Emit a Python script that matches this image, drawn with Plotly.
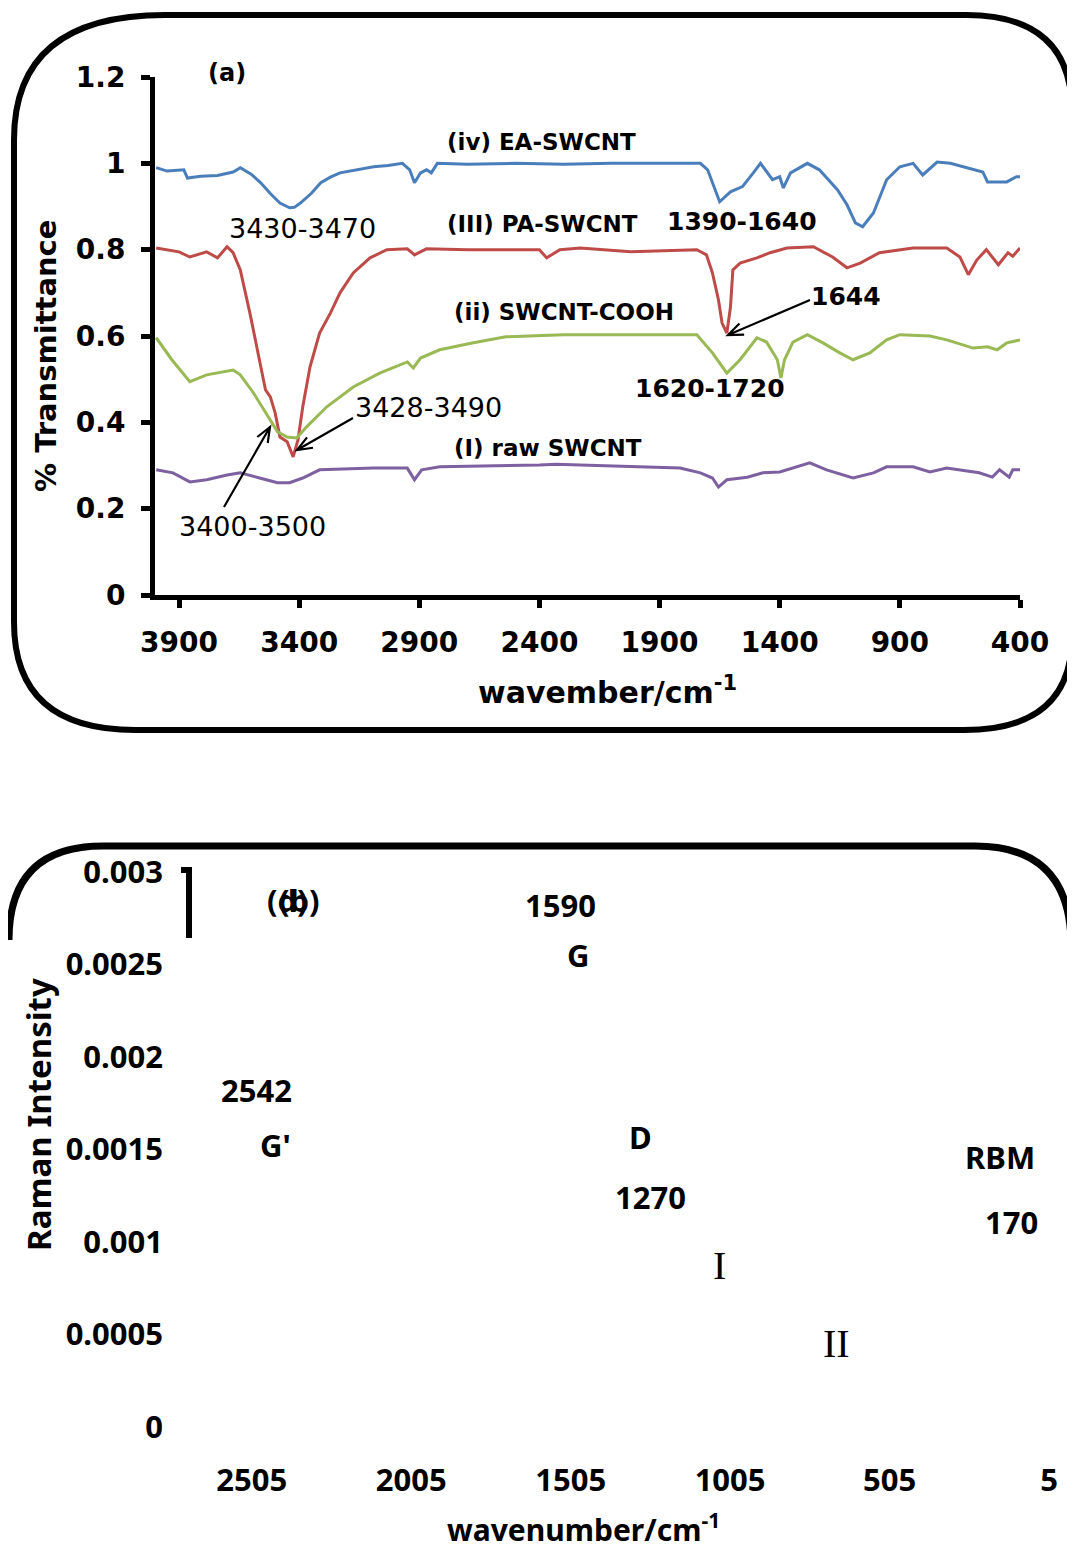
import plotly.graph_objects as go

W, H = 1075, 1549
OFF = 8  # page body margin in the browser

# ---------------- Panel (a): FTIR spectra ----------------
iv_wn = [3995, 3950, 3880, 3865, 3810, 3740, 3675, 3645, 3600, 3560, 3520, 3480, 3440, 3420, 3395, 3350, 3310, 3270, 3230, 3160,
         3090, 3030, 2970, 2940, 2920, 2895, 2870, 2850, 2825, 2700, 2500, 2300, 2100, 1900, 1730, 1700, 1660, 1650, 1605, 1555,
         1510, 1480, 1430, 1400, 1385, 1355, 1285, 1235, 1160, 1120, 1085, 1055, 1010, 955, 900, 845, 805, 745, 690, 595,
         555, 535, 455, 415, 400]
iv_t = [0.99, 0.982, 0.985, 0.966, 0.97, 0.972, 0.98, 0.99, 0.975, 0.955, 0.93, 0.908, 0.897, 0.898, 0.908, 0.93, 0.955, 0.968, 0.978, 0.985,
        0.992, 0.995, 1.0, 0.985, 0.955, 0.978, 0.985, 0.978, 1.0, 0.998, 1.0, 0.998, 1.0, 1.0, 1.0, 0.985, 0.927, 0.911, 0.934, 0.946,
        0.978, 1.0, 0.962, 0.969, 0.943, 0.978, 1.0, 0.985, 0.939, 0.904, 0.862, 0.853, 0.885, 0.962, 0.992, 1.0, 0.973, 1.003, 1.0, 0.985,
        0.98, 0.957, 0.957, 0.969, 0.969]

iii_wn = [3995, 3900, 3855, 3785, 3740, 3700, 3675, 3645, 3605, 3565, 3540, 3520, 3500, 3480, 3450, 3425, 3405, 3385, 3355, 3315,
          3270, 3230, 3175, 3105, 3035, 2950, 2920, 2870, 2700, 2400, 2370, 2315, 2230, 2020, 1745, 1705, 1680, 1655, 1640, 1620,
          1605, 1595, 1565, 1495, 1440, 1370, 1260, 1180, 1120, 1065, 985, 845, 705, 650, 615, 580, 540, 490, 450, 430, 400]
iii_t = [0.804, 0.795, 0.783, 0.795, 0.781, 0.807, 0.793, 0.753, 0.653, 0.545, 0.475, 0.459, 0.422, 0.366, 0.355, 0.32, 0.359, 0.436, 0.528, 0.607,
         0.653, 0.700, 0.746, 0.781, 0.80, 0.802, 0.788, 0.802, 0.80, 0.80, 0.781, 0.80, 0.804, 0.795, 0.80, 0.788, 0.746, 0.684, 0.63, 0.607,
         0.667, 0.753, 0.769, 0.781, 0.793, 0.804, 0.807, 0.783, 0.758, 0.769, 0.793, 0.804, 0.804, 0.783, 0.742, 0.776, 0.80, 0.765, 0.793, 0.785, 0.804]

ii_wn = [3995, 3930, 3855, 3785, 3675, 3645, 3590, 3530, 3490, 3450, 3410, 3370, 3285, 3175, 3065, 2950, 2925, 2895, 2815, 2680,
         2540, 2300, 2000, 1745, 1680, 1620, 1565, 1495, 1455, 1410, 1395, 1380, 1345, 1285, 1220, 1150, 1095, 1025, 955, 900,
         775, 705, 595, 535, 495, 455, 400]
ii_t = [0.596, 0.545, 0.494, 0.51, 0.521, 0.51, 0.468, 0.413, 0.378, 0.366, 0.364, 0.389, 0.436, 0.482, 0.514, 0.54, 0.526, 0.549, 0.568, 0.584,
        0.598, 0.603, 0.603, 0.603, 0.561, 0.514, 0.545, 0.596, 0.586, 0.545, 0.503, 0.545, 0.586, 0.603, 0.584, 0.561, 0.545, 0.561, 0.591, 0.603,
        0.6, 0.591, 0.572, 0.575, 0.568, 0.584, 0.591]

i_wn = [3995, 3925, 3855, 3785, 3700, 3645, 3565, 3490, 3440, 3385, 3315, 3090, 2950, 2920, 2890, 2815, 2400, 2330, 2230, 1815,
        1730, 1680, 1655, 1620, 1535, 1470, 1400, 1330, 1275, 1205, 1095, 1010, 955, 845, 775, 705, 570, 515, 485, 445,
        430, 400]
i_t = [0.29, 0.283, 0.262, 0.267, 0.278, 0.283, 0.271, 0.26, 0.26, 0.271, 0.29, 0.294, 0.294, 0.267, 0.29, 0.297, 0.301, 0.303, 0.301, 0.294,
       0.283, 0.271, 0.25, 0.267, 0.273, 0.283, 0.285, 0.297, 0.306, 0.29, 0.271, 0.283, 0.297, 0.297, 0.285, 0.294, 0.283, 0.273, 0.29, 0.273,
       0.29, 0.29]

series_names = ["(iv) EA-SWCNT", "(III) PA-SWCNT", "(ii) SWCNT-COOH", "(I) raw SWCNT"]
series_colors = ["#4A7EBB", "#BE4B48", "#98B954", "#7D60A0"]

a_xticks = [3900, 3400, 2900, 2400, 1900, 1400, 900, 400]
a_yticks = [0, 0.2, 0.4, 0.6, 0.8, 1, 1.2]
a_yticktext = ["0", "0.2", "0.4", "0.6", "0.8", "1", "1.2"]

# ---------------- Panel (b): Raman (no spectrum visible) ----------------
b_xticks = [2505, 2005, 1505, 1005, 505, 5]
b_yticks = [0, 0.0005, 0.001, 0.0015, 0.002, 0.0025, 0.003]
b_yticktext = ["0", "0.0005", "0.001", "0.0015", "0.002", "0.0025", "0.003"]
b_wn = []
b_int = []


# ---------------- helpers (screen px -> paper) ----------------
def pp(px, py):
    return (px - OFF) / W, 1 - (py - OFF) / H


def P(px, py):
    x, y = pp(px, py)
    return f"{x:.5f},{y:.5f}"


VERD = "DejaVu Sans"
TAHO = "Noto Sans"
SERIF = "Liberation Serif"

fig = go.Figure()
for wn, t, name, col in zip([iv_wn, iii_wn, ii_wn, i_wn], [iv_t, iii_t, ii_t, i_t], series_names, series_colors):
    fig.add_trace(go.Scatter(x=wn, y=t, mode="lines", name=name, line=dict(color=col, width=3),
                             xaxis="x", yaxis="y", showlegend=False, hoverinfo="skip"))
fig.add_trace(go.Scatter(x=b_wn, y=b_int, mode="lines", xaxis="x2", yaxis="y2", showlegend=False))

annotations = []


def label(text, px, py, size, family, weight="bold", angle=0):
    x, y = pp(px, py)
    annotations.append(dict(text=text, x=x, y=y, xref="paper", yref="paper", xanchor="center", yanchor="middle",
                            showarrow=False, textangle=angle,
                            font=dict(family=family, size=size, color="black", weight=weight)))


# panel (a) labels
label("(a)", 227, 73, 24, VERD)
label("(iv) EA-SWCNT", 541, 142, 23, VERD)
label("3430-3470", 302, 228, 27, VERD, "normal")
label("(III) PA-SWCNT", 542, 224, 23, VERD)
label("1390-1640", 742, 221, 25, VERD)
label("1644", 846, 296, 25, VERD)
label("(ii) SWCNT-COOH", 564, 312, 23, VERD)
label("3428-3490", 428, 408, 27, VERD, "normal")
label("1620-1720", 710, 388, 25, VERD)
label("(I) raw SWCNT", 548, 448, 23, VERD)
label("3400-3500", 252, 527, 27, VERD, "normal")
label("% Transmittance", 46, 356, 29, VERD, angle=-90)
label("wavember/cm<sup>-1</sup>", 607, 690, 30, VERD)

# panel (b) labels
label("(d)", 287, 900, 31, TAHO)
label("(b)", 299, 900, 31, TAHO)
label("1590", 561, 905, 31, TAHO)
label("G", 578, 955, 31, TAHO)
label("2542", 256, 1090, 31, TAHO)
label("G'", 275, 1145, 31, TAHO)
label("D", 640, 1137, 31, TAHO)
label("1270", 650, 1197, 31, TAHO)
label("RBM", 1000, 1157, 31, TAHO)
label("170", 1011, 1222, 31, TAHO)
label("I", 719, 1265, 40, SERIF, "normal")
label("II", 836, 1343, 40, SERIF, "normal")
label("Raman Intensity", 38, 1115, 33, TAHO, angle=-90)
label("wavenumber/cm<sup>-1</sup>", 583, 1528, 30, TAHO)

shapes = []


def arrow(tail, head, L=15.0, w=6.0):
    (tx, ty), (hx, hy) = tail, head
    dx, dy = hx - tx, hy - ty
    n = (dx * dx + dy * dy) ** 0.5
    ux, uy = dx / n, dy / n
    w1 = (hx - L * ux - w * uy, hy - L * uy + w * ux)
    w2 = (hx - L * ux + w * uy, hy - L * uy - w * ux)
    path = f"M {P(tx, ty)} L {P(hx, hy)} M {P(*w1)} L {P(hx, hy)} L {P(*w2)}"
    shapes.append(dict(type="path", path=path, xref="paper", yref="paper", line=dict(color="black", width=2.2)))


arrow((810, 300), (728, 335))
arrow((353, 418), (297, 450))
arrow((224, 507), (270, 427))

path_a = (f"M {P(14,140)} Q {P(14,15)} {P(165,15)} L {P(966,15)} Q {P(1072,15)} {P(1072,112)} "
          f"L {P(1072,636)} Q {P(1072,730)} {P(964,730)} L {P(135,730)} Q {P(14,730)} {P(14,622)} Z")
shapes.append(dict(type="path", path=path_a, xref="paper", yref="paper", line=dict(color="black", width=6)))
path_b = f"M {P(9,940)} Q {P(9,846)} {P(103,846)} L {P(975,846)} Q {P(1071,846)} {P(1071,945)}"
shapes.append(dict(type="path", path=path_b, xref="paper", yref="paper", line=dict(color="black", width=7)))
path_seg = f"M {P(181,870)} L {P(189,870)} L {P(189,938)}"
shapes.append(dict(type="path", path=path_seg, xref="paper", yref="paper", line=dict(color="black", width=6)))

tickA = dict(family=VERD, size=28, color="black", weight="bold")
tickB = dict(family=TAHO, size=31, color="black", weight="bold")

xa0, ya0 = pp(155, 595)
xa1, ya1 = pp(1020, 77)
xb0, yb0 = pp(188, 1427)
xb1, yb1 = pp(1049, 872)

fig.update_layout(
    width=W, height=H, margin=dict(l=0, r=0, t=0, b=0, pad=0, autoexpand=False),
    paper_bgcolor="white", plot_bgcolor="white",
    showlegend=False,
    annotations=annotations, shapes=shapes,
    xaxis=dict(domain=[xa0, xa1], range=[4000, 400], tickvals=a_xticks, showgrid=False, zeroline=False,
               showline=True, linewidth=5, linecolor="black", ticks="outside", ticklen=8, tickwidth=5, tickcolor="black",
               tickfont=tickA, anchor="y", ticklabelstandoff=10, automargin=False),
    yaxis=dict(domain=[ya0, ya1], range=[0, 1.2], tickvals=a_yticks, ticktext=a_yticktext, showgrid=False,
               zeroline=False, showline=True, linewidth=5, linecolor="black", ticks="outside", ticklen=9, tickwidth=5,
               tickcolor="black", tickfont=tickA, anchor="x", ticklabelstandoff=10, automargin=False),
    xaxis2=dict(domain=[xb0, xb1], range=[2705, 5], tickvals=b_xticks, showgrid=False, zeroline=False,
                showline=False, ticks="", tickfont=tickB, anchor="y2", ticklabelstandoff=32, automargin=False),
    yaxis2=dict(domain=[yb0, yb1], range=[0, 0.003], tickvals=b_yticks, ticktext=b_yticktext,
                showgrid=False, zeroline=False, showline=False, ticks="", tickfont=tickB, anchor="x2",
                ticklabelstandoff=24, automargin=False),
)

fig.write_html("out.html")
